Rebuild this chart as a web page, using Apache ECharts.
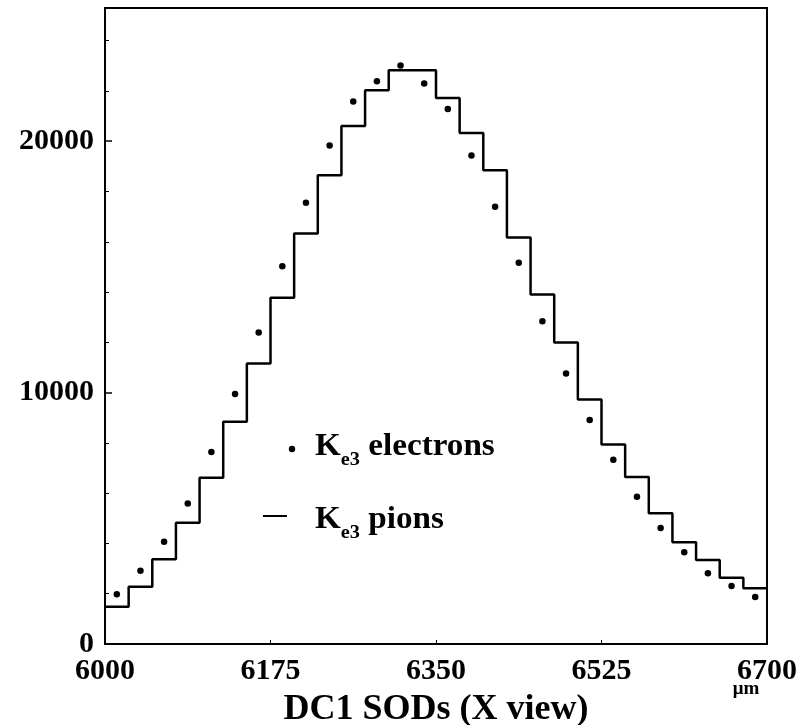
<!DOCTYPE html>
<html>
<head>
<meta charset="utf-8">
<script src="https://cdn.jsdelivr.net/npm/echarts@6/dist/echarts.min.js"></script>
<style>
html,body{margin:0;padding:0;background:#fff;}
#chart{width:801px;height:725px;}
</style>
</head>
<body>
<div id="chart"></div>
<script>
// Bin lower edges (µm), bin width 25 µm
var binLow = [6000,6025,6050,6075,6100,6125,6150,6175,6200,6225,6250,6275,6300,6325,
              6350,6375,6400,6425,6450,6475,6500,6525,6550,6575,6600,6625,6650,6675];
var binHigh = 6700;
var binCenter = [6012.5,6037.5,6062.5,6087.5,6112.5,6137.5,6162.5,6187.5,6212.5,6237.5,6262.5,6287.5,6312.5,6337.5,
                 6362.5,6387.5,6412.5,6437.5,6462.5,6487.5,6512.5,6537.5,6562.5,6587.5,6612.5,6637.5,6662.5,6687.5];
// Ke3 pions (histogram)
var pions = [1483,2278,3368,4824,6613,8839,11161,13770,16330,18648,20609,22028,22823,22823,
             21720,20330,18847,16171,13905,11990,9730,7940,6640,5197,4044,3340,2636,2215];
// Ke3 electrons (dots)
var electrons = [1976,2915,4068,5594,7634,9940,12393,15030,17548,19828,21578,22386,23010,22294,
                 21285,19431,17389,15162,12843,10763,8907,7330,5858,4612,3645,2810,2306,1869];
var xTicks = [6000,6175,6350,6525,6700];
var yTicks = [0,10000,20000];

var FONT = 'Liberation Serif';

var pionData = binLow.map(function(x,i){return [x,pions[i]];});
pionData.push([binHigh,pions[pions.length-1]]);
var elecData = binCenter.map(function(x,i){return [x,electrons[i]];});

function legendRich(){
  return {k:{fontFamily:FONT,fontWeight:'bold',fontSize:31,fill:'#000',lineHeight:30,verticalAlign:'middle'},
          s:{fontFamily:FONT,fontWeight:'bold',fontSize:19,fill:'#000',lineHeight:18,verticalAlign:'bottom',padding:[0,0,-8,0]},
          t:{fontFamily:FONT,fontWeight:'bold',fontSize:31,fill:'#000',lineHeight:30,verticalAlign:'middle'}};
}

var chart = echarts.init(document.getElementById('chart'), null, {renderer:'canvas'});
chart.setOption({
  animation:false,
  backgroundColor:'#fff',
  grid:{left:105,right:34,top:8,bottom:81,show:true,borderColor:'#000',borderWidth:2,backgroundColor:'transparent',
        containLabel:false,outerBoundsMode:'none'},
  xAxis:{
    type:'value',min:xTicks[0],max:xTicks[xTicks.length-1],interval:xTicks[1]-xTicks[0],
    axisLine:{show:true,onZero:false,lineStyle:{color:'#000',width:2}},
    axisTick:{show:true,inside:true,length:4,lineStyle:{color:'#000',width:1}},
    splitLine:{show:false},
    axisLabel:{color:'#000',fontFamily:FONT,fontWeight:'bold',fontSize:30,margin:12,showMaxLabel:true,showMinLabel:true,
      formatter:function(v){return String(v);}},
    name:'DC1 SODs (X view)',nameLocation:'middle',nameGap:48,
    nameTextStyle:{color:'#000',fontFamily:FONT,fontWeight:'bold',fontSize:36}
  },
  yAxis:{
    type:'value',min:0,max:25300,interval:10000,
    axisLine:{show:true,lineStyle:{color:'#000',width:2}},
    axisTick:{show:true,inside:true,length:7,lineStyle:{color:'#000',width:1.5}},
    minorTick:{show:true,splitNumber:5,length:4,lineStyle:{color:'#000',width:1}},
    splitLine:{show:false},
    axisLabel:{color:'#000',fontFamily:FONT,fontWeight:'bold',fontSize:30,margin:11,showMaxLabel:false,
      formatter:function(v){return yTicks.indexOf(v)>=0?String(v):'';}}
  },
  series:[
    {type:'line',name:'Ke3 pions',data:pionData,step:'end',symbol:'none',
     lineStyle:{color:'#000',width:2.5},z:3},
    {type:'scatter',name:'Ke3 electrons',data:elecData,symbol:'circle',symbolSize:6.5,
     itemStyle:{color:'#000',opacity:1},z:4}
  ],
  graphic:[
    {type:'circle',shape:{cx:292,cy:449,r:3.2},style:{fill:'#000'},z:10},
    {type:'text',x:315,y:447,scaleX:1.07,z:10,style:{
      text:'{k|K}{s|e3}{t| electrons}',verticalAlign:'middle',rich:legendRich()}},
    {type:'line',shape:{x1:263,y1:516,x2:287,y2:516},style:{stroke:'#000',lineWidth:2},z:10},
    {type:'text',x:315,y:520,scaleX:1.07,z:10,style:{
      text:'{k|K}{s|e3}{t| pions}',verticalAlign:'middle',rich:legendRich()}},
    {type:'text',x:746,y:689,z:10,style:{text:'μm',fontFamily:FONT,fontWeight:'bold',fontSize:19,fill:'#000',align:'center',verticalAlign:'middle'}}
  ]
});
</script>
</body>
</html>
